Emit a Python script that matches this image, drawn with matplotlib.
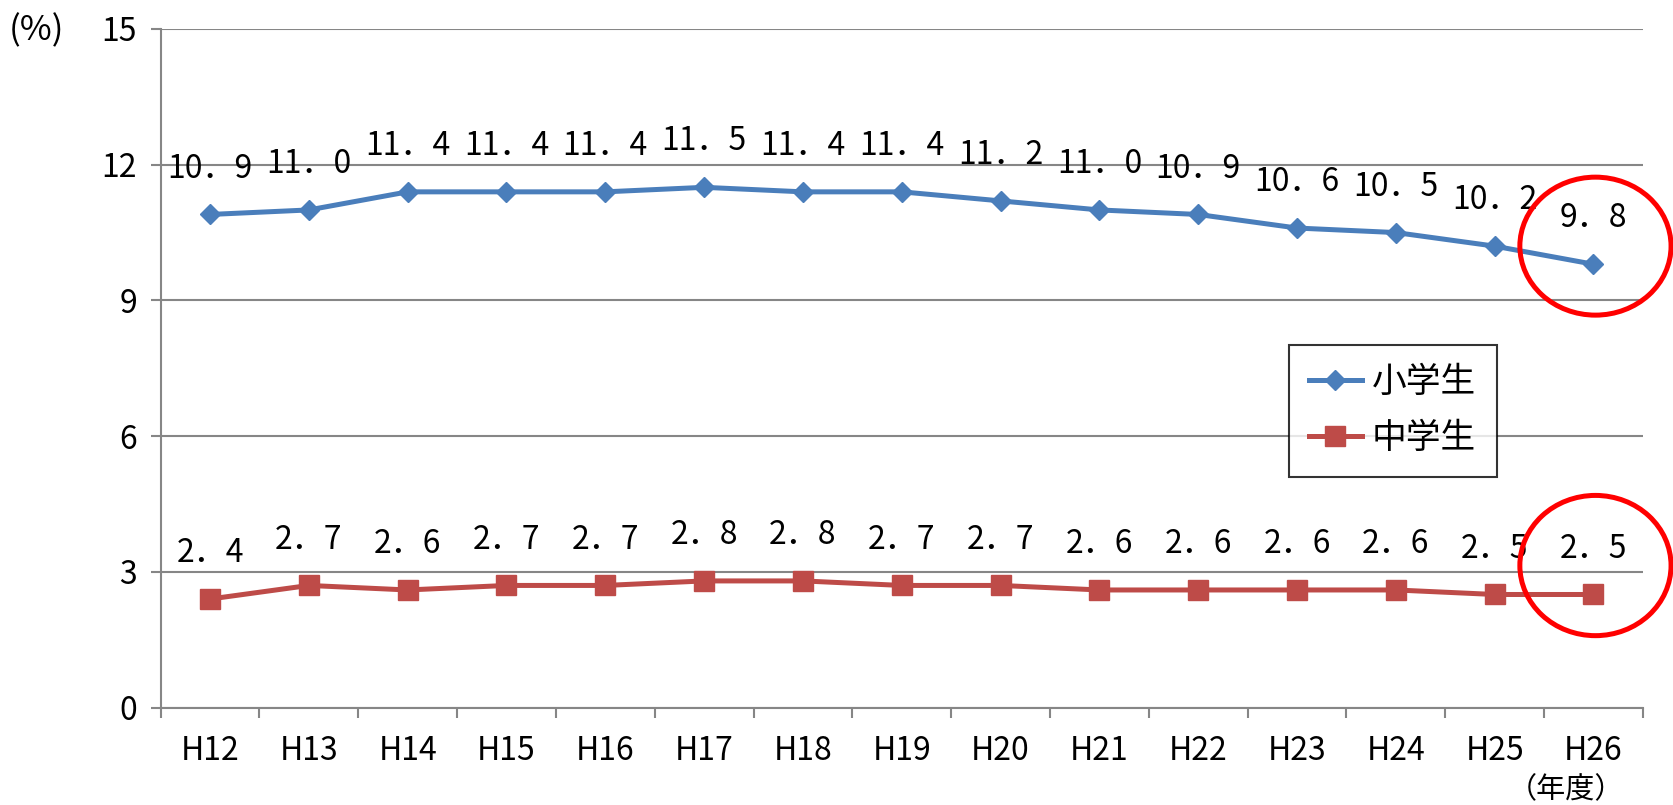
import numpy as np
import matplotlib.pyplot as plt
from matplotlib.patches import Ellipse

plt.rcParams['font.family'] = ['Noto Sans CJK JP', 'DejaVu Sans']

years = ['H12', 'H13', 'H14', 'H15', 'H16', 'H17', 'H18', 'H19',
         'H20', 'H21', 'H22', 'H23', 'H24', 'H25', 'H26']
elementary = [10.9, 11.0, 11.4, 11.4, 11.4, 11.5, 11.4, 11.4,
              11.2, 11.0, 10.9, 10.6, 10.5, 10.2, 9.8]
junior = [2.4, 2.7, 2.6, 2.7, 2.7, 2.8, 2.8, 2.7,
          2.7, 2.6, 2.6, 2.6, 2.6, 2.5, 2.5]

blue = '#4A7EBB'
red = '#BE4B48'
grey = '#868686'

fig = plt.figure(figsize=(16.73, 8.05), dpi=100)
ax = fig.add_axes([0.096, 0.121, 0.886, 0.843])

x = np.arange(len(years))
ax.plot(x, elementary, color=blue, lw=3.6, marker='D', ms=10, label='小学生', zorder=3)
ax.plot(x, junior, color=red, lw=3.6, marker='s', ms=14, label='中学生', zorder=3)

for xi, v in zip(x, elementary):
    ax.annotate(f'{v:.1f}'.replace('.', '．'), (xi, v), xytext=(0, 33),
                textcoords='offset points', ha='center', va='center', fontsize=23)
for xi, v in zip(x, junior):
    ax.annotate(f'{v:.1f}'.replace('.', '．'), (xi, v), xytext=(0, 33),
                textcoords='offset points', ha='center', va='center', fontsize=23)

ax.set_xlim(-0.5, len(years) - 0.5)
ax.set_ylim(0, 15)
ax.set_yticks([0, 3, 6, 9, 12, 15])
ax.set_xticks(x)
ax.set_xticklabels(years)
ax.set_xticks(np.arange(-0.5, len(years)), minor=True)
ax.tick_params(axis='x', which='major', length=0, pad=20, labelsize=23)
ax.tick_params(axis='x', which='minor', length=7, width=1.5, color=grey, direction='out')
ax.tick_params(axis='y', length=7, width=1.5, color=grey, pad=10, labelsize=23)

ax.grid(axis='y', color=grey, lw=1.5)
ax.set_axisbelow(True)
for side in ['top', 'right']:
    ax.spines[side].set_visible(False)
for side in ['left', 'bottom']:
    ax.spines[side].set_color(grey)
    ax.spines[side].set_linewidth(1.5)

leg = ax.legend(loc='upper left', bbox_to_anchor=(0.761, 0.535), fontsize=25,
                frameon=True, fancybox=False, edgecolor='black',
                handlelength=1.5, handletextpad=0.3, labelspacing=0.6,
                borderpad=0.6, borderaxespad=0)
leg.get_frame().set_linewidth(1.5)

# red circles around the last year
ax.add_patch(Ellipse((14.02, 10.2), 1.53, 3.05, fill=False, ec='#FF0000', lw=3.6, clip_on=False, zorder=4))
ax.add_patch(Ellipse((14.02, 3.14), 1.53, 3.1, fill=False, ec='#FF0000', lw=3.6, clip_on=False, zorder=4))

fig.text(0.005, 0.962, '(%)', fontsize=25, va='center', ha='left')
fig.text(0.936, 0.019, '（年度）', fontsize=21, va='center', ha='center')

fig.savefig('out.png', dpi=100)
